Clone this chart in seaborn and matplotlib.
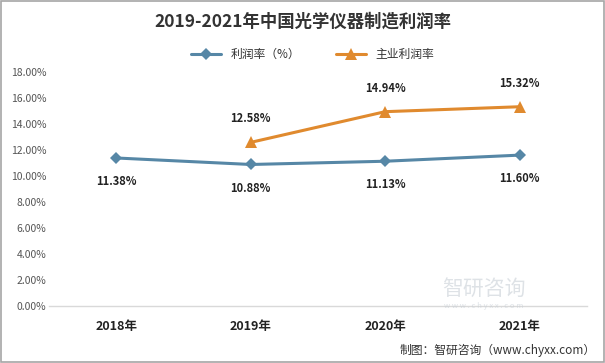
import matplotlib
matplotlib.use("Agg")
import matplotlib.pyplot as plt
import seaborn as sns
import pandas as pd
from matplotlib.patches import Rectangle

sns.set_theme(style="white")
plt.rcParams['font.family'] = ['Noto Sans CJK SC', 'DejaVu Sans']

years = ["2018年", "2019年", "2020年", "2021年"]
profit_rate = [11.38, 10.88, 11.13, 11.60]
main_years = ["2019年", "2020年", "2021年"]
main_profit_rate = [12.58, 14.94, 15.32]
yticks = [0, 2, 4, 6, 8, 10, 12, 14, 16, 18]

df1 = pd.DataFrame({"year": years, "value": profit_rate})
df2 = pd.DataFrame({"year": main_years, "value": main_profit_rate})

blue = "#5687a6"
orange = "#e08a2e"

fig = plt.figure(figsize=(6.05, 3.63), dpi=100)
ax = fig.add_axes([0.081, 0.157, 0.889, 0.645])

order = {y: i for i, y in enumerate(years)}
df1["x"] = df1["year"].map(order)
df2["x"] = df2["year"].map(order)

sns.lineplot(data=df1, x="x", y="value", ax=ax, color=blue, lw=2.2, marker="D",
             markersize=6, markeredgewidth=0, label="利润率（%）")
sns.lineplot(data=df2, x="x", y="value", ax=ax, color=orange, lw=2.2, marker="^",
             markersize=8, markeredgewidth=0, label="主业利润率")

for x, v in zip(df1["x"], df1["value"]):
    ax.annotate(f"{v:.2f}%", (x, v), xytext=(0, -17), textcoords="offset points",
                ha="center", va="center", fontsize=8, fontweight="bold", color="#222222")
for x, v in zip(df2["x"], df2["value"]):
    ax.annotate(f"{v:.2f}%", (x, v), xytext=(0, 17), textcoords="offset points",
                ha="center", va="center", fontsize=8, fontweight="bold", color="#222222")

ax.set_xlim(-0.5, 3.5)
ax.set_ylim(0, 18)
ax.set_yticks(yticks)
ax.set_yticklabels([f"{t:.2f}%" for t in yticks], fontsize=7.5, color="#555555")
ax.set_xticks(range(len(years)))
ax.set_xticklabels(years, fontsize=9, fontweight="bold", color="#222222")
ax.tick_params(axis="x", length=0, pad=10)
ax.tick_params(axis="y", length=0, pad=2)
ax.set_xlabel("")
ax.set_ylabel("")
for s in ["top", "right", "left"]:
    ax.spines[s].set_visible(False)
ax.spines["bottom"].set_color("#d9d9d9")
ax.spines["bottom"].set_linewidth(1)

leg = ax.legend(loc="center", bbox_to_anchor=(0.49, 1.075), ncol=2, frameon=False,
                fontsize=8.5, handlelength=2.6, columnspacing=3)
for t in leg.get_texts():
    t.set_color("#333333")

fig.text(0.5, 0.94, "2019-2021年中国光学仪器制造利润率", ha="center", va="center",
         fontsize=12.5, fontweight="bold", color="#333333")

# watermark
fig.text(0.80, 0.205, "智研咨询", ha="center", va="center", fontsize=15,
         color="#c8cfd6", alpha=0.6, zorder=0)
fig.text(0.80, 0.158, "w w w . c h y x x . c o m", ha="center", va="center", fontsize=5.5,
         color="#c8cfd6", alpha=0.6, zorder=0)
fig.text(0.985, 0.035, "制图：智研咨询（www.chyxx.com）", ha="right", va="center",
         fontsize=8.5, color="#333333")

fig.patches.append(Rectangle((0.001, 0.002), 0.997, 0.996, transform=fig.transFigure,
                             fill=False, edgecolor="#a6a6a6", lw=1.2))

fig.savefig("out.png", dpi=100)
